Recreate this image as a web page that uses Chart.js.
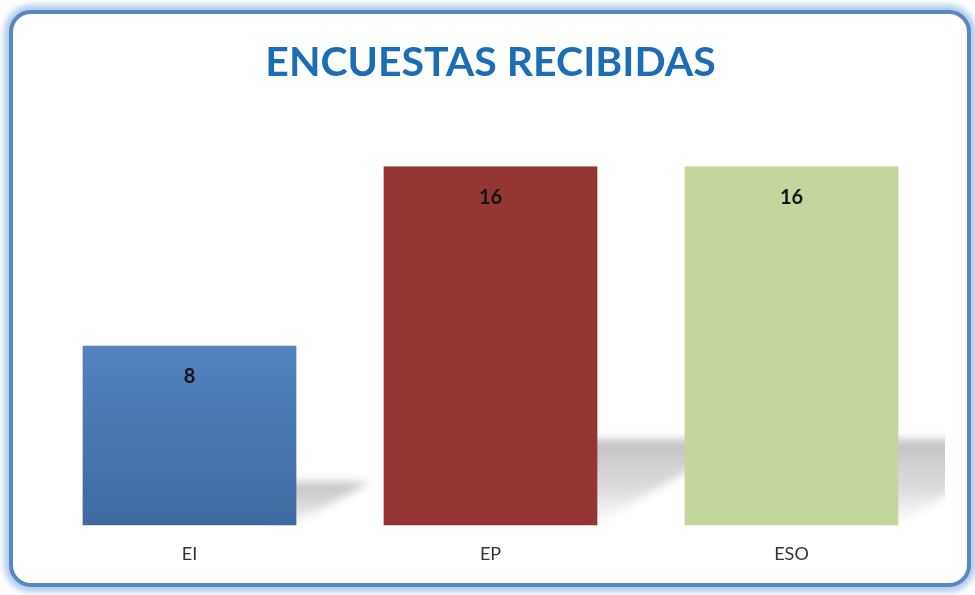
<!DOCTYPE html>
<html lang="es">
<head>
    <meta charset="UTF-8">
    <title>Encuestas recibidas</title>
    <script src="https://cdn.jsdelivr.net/npm/chart.js"></script>
    <style>
        body { margin: 0; background: #fff; }
        #wrap { position: relative; width: 975px; height: 595px; overflow: hidden; }
        #frame {
            position: absolute; left: 9px; top: 10px; width: 962px; height: 577px;
            box-sizing: border-box; border: 4px solid #5a86c1; border-radius: 22px;
            box-shadow: 0 0 6px 5px #aecbef; background: #fff;
        }
        #myChart { position: absolute; left: 0; top: 0; }
    </style>
</head>
<body>
<div id="wrap">
    <div id="frame"></div>
    <canvas id="myChart" width="975" height="595"></canvas>
</div>
<script>
    const categorias = ['EI', 'EP', 'ESO'];
    const encuestas = [8, 16, 16];
    const colores = ['#4a78b4', '#933634', '#c3d69b'];

    // sombra "en el suelo" detras de cada barra
    const sombras = {
        id: 'sombras',
        beforeDatasetsDraw(chart) {
            const ctx = chart.ctx;
            const meta = chart.getDatasetMeta(0);
            ctx.save();
            ctx.beginPath();
            ctx.rect(0, 0, chart.chartArea.right + 3, chart.height);
            ctx.clip();
            ctx.filter = 'blur(4px)';
            meta.data.forEach(bar => {
                const right = bar.x + bar.width / 2;
                const h = (bar.base - bar.y) * 0.24;
                const top = bar.base - h;
                const g = ctx.createLinearGradient(0, top, 0, bar.base);
                g.addColorStop(0, 'rgba(185,185,188,0.9)');
                g.addColorStop(0.6, 'rgba(200,200,203,0.6)');
                g.addColorStop(1, 'rgba(230,230,230,0.2)');
                ctx.fillStyle = g;
                ctx.beginPath();
                ctx.moveTo(right - 20, top);
                ctx.lineTo(right + h * 1.7, top);
                ctx.lineTo(right, bar.base - 3);
                ctx.lineTo(right - 20, bar.base - 3);
                ctx.closePath();
                ctx.fill();
            });
            ctx.restore();
        }
    };

    // valores dentro de las barras
    const valores = {
        id: 'valores',
        afterDatasetsDraw(chart) {
            const ctx = chart.ctx;
            const meta = chart.getDatasetMeta(0);
            ctx.save();
            ctx.font = 'bold 20px Lato';
            ctx.fillStyle = '#141414';
            ctx.textAlign = 'center';
            ctx.textBaseline = 'middle';
            meta.data.forEach((bar, i) => {
                ctx.fillText(encuestas[i], bar.x, bar.y + 31);
            });
            ctx.restore();
        }
    };

    const fondo = (context) => {
        const chart = context.chart;
        const i = context.dataIndex;
        const area = chart.chartArea;
        if (i === 0 && area && chart.scales.y) {
            const top = chart.scales.y.getPixelForValue(encuestas[0]);
            if (isFinite(top) && isFinite(area.bottom)) {
                const g = chart.ctx.createLinearGradient(0, top, 0, area.bottom);
                g.addColorStop(0, '#5283c0');
                g.addColorStop(1, '#3e6aa1');
                return g;
            }
        }
        return colores[i];
    };

    new Chart(document.getElementById('myChart'), {
        type: 'bar',
        data: {
            labels: categorias,
            datasets: [{
                data: encuestas,
                backgroundColor: fondo,
                borderWidth: 0,
                categoryPercentage: 1,
                barPercentage: 0.71
            }]
        },
        options: {
            responsive: false,
            animation: false,
            layout: { padding: { left: 39, right: 33, top: 18, bottom: 12 } },
            plugins: {
                legend: { display: false },
                tooltip: { enabled: false },
                title: {
                    display: true,
                    text: 'ENCUESTAS RECIBIDAS',
                    color: '#1b6db6',
                    font: { family: 'Lato', size: 41, weight: 'bold', lineHeight: 1.2 },
                    padding: { top: 20, bottom: 79 }
                }
            },
            scales: {
                y: { display: false, min: 0, max: 16 },
                x: {
                    grid: { display: false, drawTicks: false },
                    border: { display: false },
                    ticks: {
                        padding: 18,
                        color: '#333',
                        font: { family: 'Lato', size: 18 }
                    }
                }
            }
        },
        plugins: [sombras, valores]
    });
</script>
</body>
</html>
